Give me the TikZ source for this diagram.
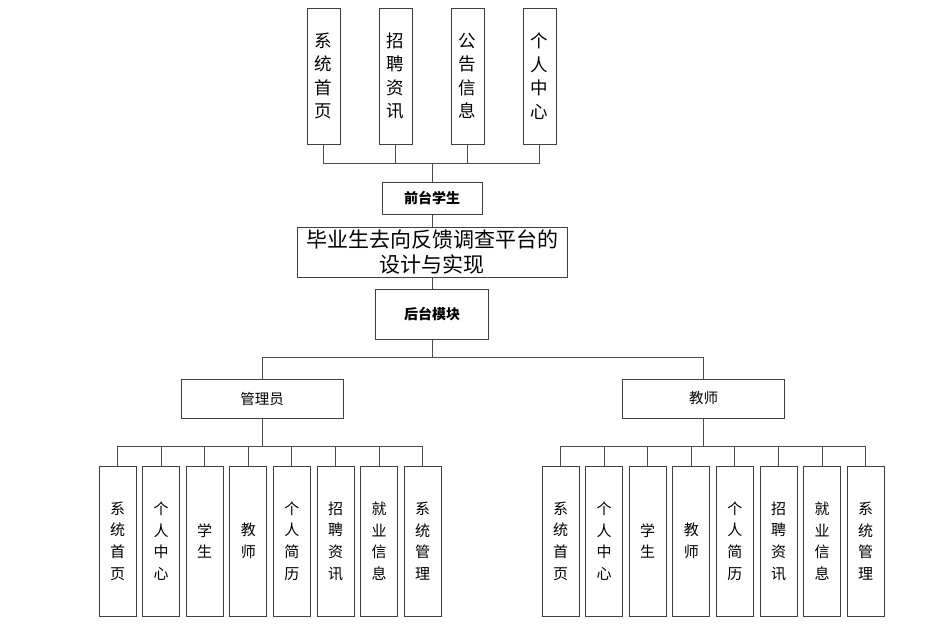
\documentclass[tikz,border=0pt]{standalone}
\usepackage{fontspec}
\setmainfont{Noto Sans CJK SC}
\begin{document}
\begin{tikzpicture}[x=1pt, y=-1pt, line width=1pt,
    box/.style={draw=black!75, fill=white, inner sep=0pt, align=center},
    topbox/.style={box, minimum width=33pt, minimum height=136pt, font=\fontsize{17.5}{23.5}\selectfont},
    leaf/.style={box, minimum width=37pt, minimum height=150pt, font=\fontsize{15}{21.7}\selectfont},
    role/.style={box, minimum width=162pt, minimum height=39pt, font=\fontsize{14.5}{16}\selectfont},
    link/.style={draw=black!70}]
  \useasboundingbox (0,0) rectangle (941,632);
  % front end
  \node[topbox] (t1) at (323.5,76) {系\\统\\首\\页};
  \node[topbox] (t2) at (395.5,76) {招\\聘\\资\\讯};
  \node[topbox] (t3) at (467.5,76) {公\\告\\信\\息};
  \node[topbox] (t4) at (539.5,76) {个\\人\\中\\心};
  \node[box, minimum width=100pt, minimum height=32pt, font=\bfseries\fontsize{14}{16}\selectfont] (front) at (432,198) {前台学生};
  \foreach \i in {1,...,4}
    \draw[link] (t\i.south) -- ++(0,19) -| (front.north);
  % title
  \node[box, minimum width=270pt, minimum height=50pt, font=\fontsize{21}{25}\selectfont] (title) at (432,252) {毕业生去向反馈调查平台的\\设计与实现};
  \node[box, minimum width=113pt, minimum height=50pt, font=\bfseries\fontsize{14}{16}\selectfont] (back) at (432,314) {后台模块};
  \draw[link] (front) -- (title);
  \draw[link] (title) -- (back);
  % back end
  \node[role] (admin) at (262,398.5) {管理员};
  \node[role] (teach) at (703.5,398.5) {教师};
  \draw[link] (back.south) -- ++(0,18) -| (admin.north);
  \draw[link] (back.south) -- ++(0,18) -| (teach.north);
  \foreach \t [count=\i from 0] in {{系\\统\\首\\页},{个\\人\\中\\心},{学\\生},{教\\师},{个\\人\\简\\历},{招\\聘\\资\\讯},{就\\业\\信\\息},{系\\统\\管\\理}} {
    \node[leaf] (a\i) at ({117.5+43.6*\i},541) {\t};
    \draw[link] (a\i.north) -- ++(0,-19) -| (admin.south);
    \node[leaf] (b\i) at ({560.5+43.6*\i},541) {\t};
    \draw[link] (b\i.north) -- ++(0,-19) -| (teach.south);
  }
\end{tikzpicture}
\end{document}
